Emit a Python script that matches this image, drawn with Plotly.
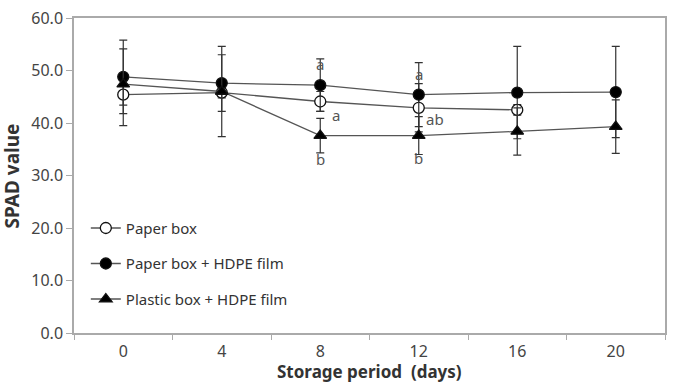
import plotly.graph_objects as go

days = ["0", "4", "8", "12", "16", "20"]

paper_box = [45.4, 45.8, 44.1, 42.9, 42.5]
paper_box_err_plus = [2.0, 1.0, 1.9, 4.6, 1.0]
paper_box_err_minus = [2.0, 1.0, 1.9, 4.6, 1.0]

paper_hdpe = [48.8, 47.6, 47.2, 45.4, 45.8, 45.9]
paper_hdpe_err_plus = [7.0, 5.4, 5.0, 6.1, 8.8, 8.7]
paper_hdpe_err_minus = [7.0, 5.4, 5.0, 6.1, 8.8, 8.7]

plastic_hdpe = [47.4, 46.0, 37.6, 37.6, 38.4, 39.3]
plastic_hdpe_err_plus = [6.7, 8.6, 3.3, 3.6, 4.5, 5.1]
plastic_hdpe_err_minus = [7.9, 8.6, 3.3, 3.6, 4.5, 5.1]

letters = ["a", "a", "b", "a", "ab", "b"]
letter_day = ["8", "8", "8", "12", "12", "12"]
letter_y = [51.3, 41.5, 33.1, 49.4, 40.7, 33.3]
letter_dx = [0, 16, 0, 0, 16, 0]

FONT = "Noto Sans"
LINE = "#555555"

fig = go.Figure()

def add(name, y, ep, em, symbol, fill, group):
    fig.add_trace(go.Scatter(
        x=days[:len(y)], y=y, name=name, mode="lines+markers",
        legendgroup=group,
        line=dict(color=LINE, width=1.3),
        marker=dict(symbol=symbol, size=11, color=fill,
                    line=dict(color="#111111", width=1.3)),
        error_y=dict(type="data", array=ep, arrayminus=em, symmetric=False,
                     color="#333333", thickness=1.2, width=4),
    ))

add("Paper box", paper_box, paper_box_err_plus, paper_box_err_minus,
    "circle", "white", "g1")
add("Paper box + HDPE film", paper_hdpe, paper_hdpe_err_plus, paper_hdpe_err_minus,
    "circle", "black", "g2")
add("Plastic box + HDPE film", plastic_hdpe, plastic_hdpe_err_plus, plastic_hdpe_err_minus,
    "triangle-up", "black", "g3")

for t, dd, yy, dx in zip(letters, letter_day, letter_y, letter_dx):
    fig.add_annotation(x=days.index(dd), y=yy, text=t, showarrow=False, xshift=dx,
                       font=dict(family=FONT, size=15, color="#555555"))

fig.add_annotation(xref="paper", yref="paper", x=-0.105, y=0.5,
                   xanchor="center", yanchor="middle",
                   text="<b>SPAD value</b>", textangle=-90, showarrow=False,
                   font=dict(family=FONT, size=19, color="#333333"))
fig.add_annotation(xref="paper", yref="paper", x=0.5, y=-0.163, yanchor="bottom",
                   text="<b>Storage period  (days)</b>", showarrow=False,
                   borderpad=0,
                   font=dict(family=FONT, size=17, color="#333333"))

fig.update_layout(
    width=674, height=387,
    margin=dict(l=74, r=7, t=12, b=54),
    paper_bgcolor="white", plot_bgcolor="white",
    font=dict(family=FONT, size=16, color="#444444"),
    showlegend=True,
    legend=dict(x=0.02, y=0.385, xanchor="left", yanchor="top",
                bgcolor="rgba(0,0,0,0)", tracegroupgap=13, itemwidth=30,
                font=dict(family=FONT, size=15, color="#333333")),
    xaxis=dict(type="category", categoryorder="array", categoryarray=days,
               range=[-0.5, 5.5], tickson="boundaries", ticks="outside",
               ticklen=5, tickcolor="#aaaaaa", showline=True, linecolor="#aaaaaa",
               linewidth=1.5, mirror=True, showgrid=False, zeroline=False,
               ticklabelstandoff=3,
               tickfont=dict(family=FONT, size=16, color="#444444")),
    yaxis=dict(range=[0, 60], dtick=10, tickformat=".1f", ticks="outside",
               ticklen=6, tickcolor="#aaaaaa", showline=True, linecolor="#aaaaaa",
               linewidth=1.5, mirror=True, showgrid=False, zeroline=False,
               tickfont=dict(family=FONT, size=16, color="#444444")),
)

fig.write_html("out.html")
